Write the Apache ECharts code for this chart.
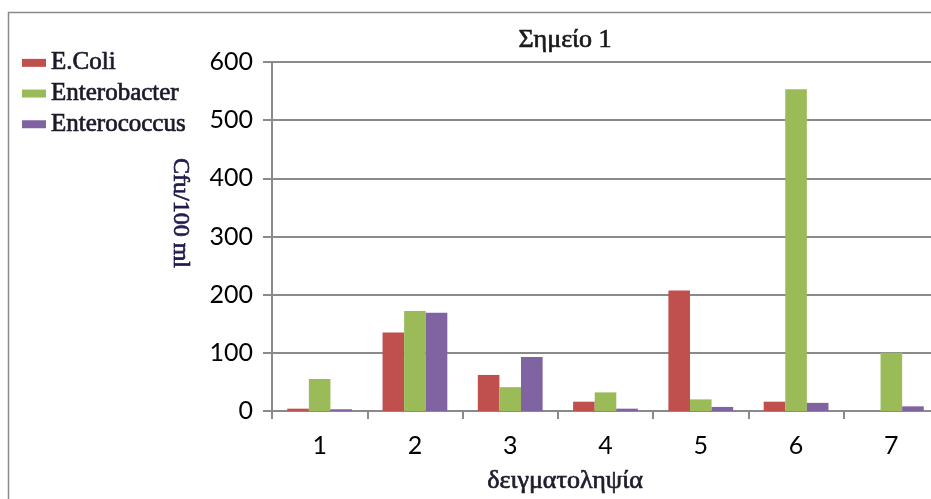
<!DOCTYPE html>
<html>
<head>
<meta charset="utf-8">
<script src="https://cdn.jsdelivr.net/npm/echarts@6/dist/echarts.min.js"></script>
<style>
  html, body { margin: 0; padding: 0; background: #fff; }
  #chart { width: 931px; height: 499px; }
</style>
</head>
<body>
<div id="chart"></div>
<script>
// Sampling rounds (x axis)
const categories = ['1', '2', '3', '4', '5', '6', '7'];
// Counts in Cfu/100 ml
const eColi        = [4, 135, 62, 16, 207, 16, 0];
const enterobacter = [55, 172, 41, 32, 20, 553, 100];
const enterococcus = [3, 169, 93, 4, 7, 14, 8];
const yTicks = { min: 0, max: 600, step: 100 };

const serif = '"Liberation Serif", "DejaVu Serif", serif';
const sans = 'Lato, "Open Sans", sans-serif';

const chart = echarts.init(document.getElementById('chart'), null, { renderer: 'canvas' });

function barSeries(name, data, color) {
  return {
    name: name,
    type: 'bar',
    data: data,
    barGap: '0%',
    barCategoryGap: '32%',
    itemStyle: { color: color },
    emphasis: { disabled: true }
  };
}

// serif captions get a thin outline in their own colour to give them weight
function serifStyle(size, color) {
  return {
    fontFamily: serif,
    fontSize: size,
    fontWeight: 'normal',
    color: color,
    textBorderColor: color,
    textBorderWidth: 0.7
  };
}

chart.setOption({
  animation: false,
  backgroundColor: '#ffffff',
  title: {
    text: 'Σημείο 1',
    left: 560,
    top: 22,
    textAlign: 'center',
    textStyle: serifStyle(26, '#1a1a1a')
  },
  legend: {
    orient: 'vertical',
    left: 17,
    top: 45,
    itemWidth: 24,
    itemHeight: 8,
    itemGap: 5,
    icon: 'rect',
    textStyle: Object.assign(serifStyle(25, '#1a1a2a'), { lineHeight: 24 }),
    data: ['E.Coli', 'Enterobacter', 'Enterococcus']
  },
  grid: { left: 272, top: 62, width: 667, height: 349, containLabel: false, outerBoundsMode: 'none' },
  xAxis: {
    type: 'category',
    data: categories,
    axisLine: { lineStyle: { color: '#8a8a8a', width: 2 } },
    axisTick: { show: true, length: 8, lineStyle: { color: '#8a8a8a', width: 2 } },
    axisLabel: { margin: 22, fontFamily: sans, fontSize: 25, color: '#000' }
  },
  yAxis: {
    type: 'value',
    min: yTicks.min,
    max: yTicks.max,
    interval: yTicks.step,
    axisLine: { show: true, lineStyle: { color: '#8a8a8a', width: 2 } },
    axisTick: { show: true, length: 9, lineStyle: { color: '#8a8a8a', width: 2 } },
    axisLabel: { margin: 19, fontFamily: sans, fontSize: 25, color: '#000' },
    splitLine: { lineStyle: { color: '#8a8a8a', width: 2 } }
  },
  graphic: [
    {
      type: 'rect',
      shape: { x: 8.5, y: 12.5, width: 1000, height: 600 },
      style: { fill: 'none', stroke: '#8a8a8a', lineWidth: 1.5 },
      silent: true
    },
    {
      type: 'text',
      x: 180,
      y: 213,
      rotation: -Math.PI / 2,
      style: {
        text: 'Cfu/100 ml',
        fontFamily: serif,
        fontSize: 24,
        fill: '#1c1c4c',
        stroke: '#1c1c4c',
        lineWidth: 0.7,
        align: 'center',
        verticalAlign: 'middle'
      },
      silent: true
    },
    {
      type: 'text',
      x: 565,
      y: 481,
      style: {
        text: 'δειγματοληψία',
        fontFamily: serif,
        fontSize: 26,
        fill: '#1c1c2c',
        stroke: '#1c1c2c',
        lineWidth: 0.7,
        align: 'center',
        verticalAlign: 'middle'
      },
      silent: true
    }
  ],
  series: [
    barSeries('E.Coli', eColi, '#C0504D'),
    barSeries('Enterobacter', enterobacter, '#9BBB59'),
    barSeries('Enterococcus', enterococcus, '#8064A2')
  ]
});
</script>
</body>
</html>
